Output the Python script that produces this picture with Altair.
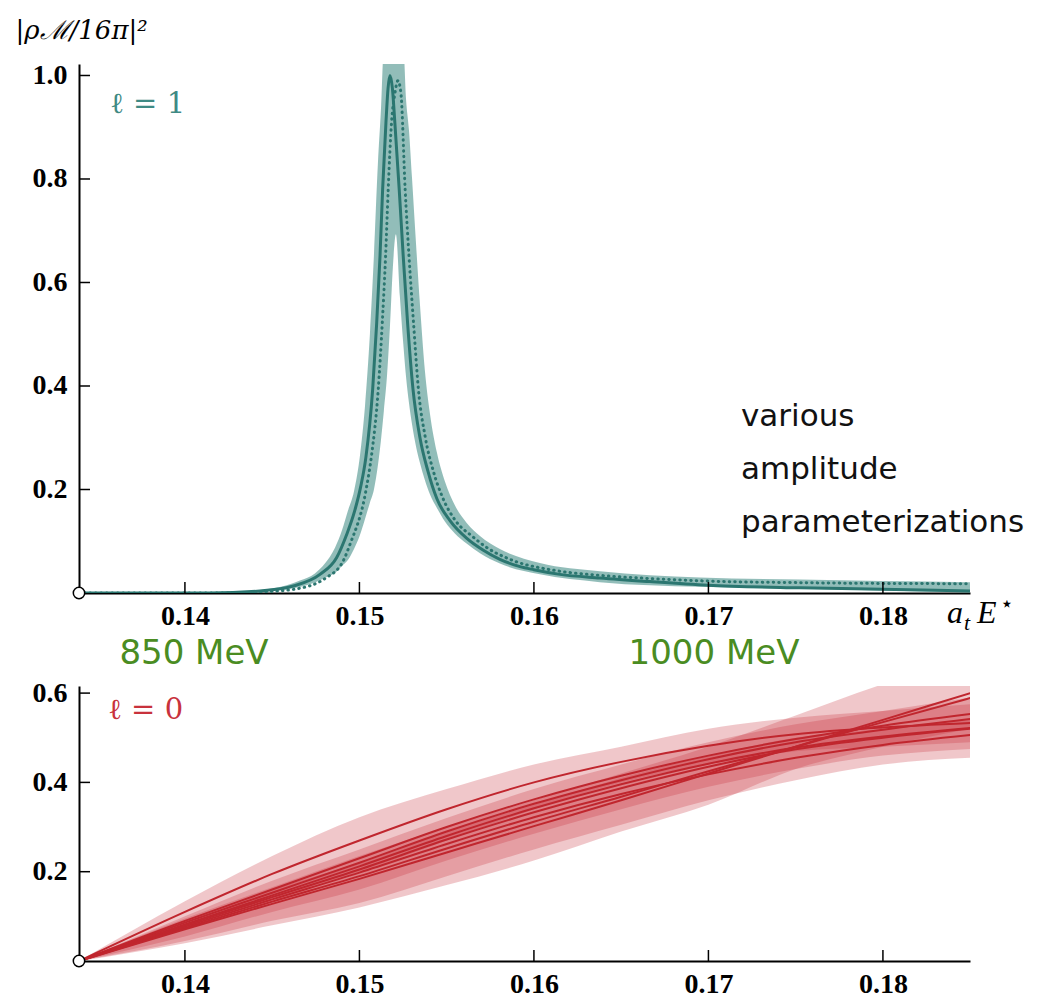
import altair as alt
import pandas as pd

# ---------------- axes / ticks ----------------
E_MIN, E_MAX = 0.13393, 0.18499
X_TICKS = [0.14, 0.15, 0.16, 0.17, 0.18]
Y_TICKS_TOP = [0.2, 0.4, 0.6, 0.8, 1.0]
Y_TICKS_BOT = [0.2, 0.4, 0.6]
TOP_YMAX = 1.0222
BOT_YMAX = 0.6159

# ---------------- top panel (l = 1) ----------------
SOLID_X = [0.13393, 0.14143, 0.14430, 0.14621, 0.14774, 0.14869, 0.14927, 0.14974, 0.15007, 0.15037,
           0.15076, 0.15099, 0.15118, 0.15133, 0.15152, 0.15164, 0.15175, 0.15189, 0.15203, 0.15228,
           0.15251, 0.15276, 0.15307, 0.15347, 0.15393, 0.15444, 0.15519, 0.15614, 0.15708, 0.15805,
           0.15920, 0.16000, 0.16149, 0.16378, 0.16665, 0.16997, 0.17524, 0.17994, 0.18499]
SOLID_Y = [0, 0, 0.004, 0.0135, 0.036, 0.068, 0.113, 0.160, 0.205, 0.262,
           0.394, 0.522, 0.651, 0.780, 0.909, 0.975, 1.0, 0.975, 0.909, 0.780,
           0.651, 0.522, 0.394, 0.30, 0.235, 0.182, 0.14, 0.106, 0.083, 0.065,
           0.051, 0.045, 0.036, 0.029, 0.022, 0.015, 0.010, 0.0072, 0.004]

DOT_X = [0.13393, 0.14250, 0.14430, 0.14621, 0.14812, 0.14907, 0.14946, 0.15039, 0.15069, 0.15108,
         0.15131, 0.15150, 0.15165, 0.15184, 0.15203, 0.15221, 0.15238, 0.15262, 0.15284, 0.15310,
         0.15338, 0.15378, 0.15424, 0.15476, 0.15550, 0.15645, 0.15738, 0.15835, 0.15950, 0.16030,
         0.16150, 0.16380, 0.16660, 0.17000, 0.17520, 0.18000, 0.18499]
DOT_Y = [0, 0, 0.002, 0.007, 0.030, 0.062, 0.094, 0.201, 0.265, 0.394,
         0.522, 0.651, 0.780, 0.909, 0.965, 0.99, 0.965, 0.780, 0.651, 0.522,
         0.394, 0.30, 0.235, 0.185, 0.14, 0.11, 0.086, 0.069, 0.055, 0.049,
         0.042, 0.034, 0.028, 0.023, 0.020, 0.0185, 0.018]

BAND_X = [0.13393, 0.14258, 0.14430, 0.14544, 0.14659, 0.14745, 0.14802, 0.14860, 0.14900, 0.14934,
          0.14969, 0.15003, 0.15032, 0.15060, 0.15083, 0.15106, 0.15123, 0.15140, 0.15158, 0.15175,
          0.15192, 0.15209, 0.15232, 0.15252, 0.15267, 0.15284, 0.15301, 0.15324, 0.15347, 0.15375,
          0.15404, 0.15444, 0.15490, 0.15547, 0.15616, 0.15691, 0.15805, 0.16034, 0.16378, 0.16951,
          0.17524, 0.17994, 0.18499]
BAND_LO = [0, 0.0005, 0.0029, 0.0059, 0.0116, 0.0204, 0.0288, 0.0389, 0.0523, 0.0638,
           0.0851, 0.112, 0.1431, 0.1745, 0.1997, 0.2469, 0.2939, 0.3516, 0.4196, 0.5156,
           0.6315, 0.693, 0.5718, 0.4785, 0.4182, 0.3671, 0.3269, 0.2838, 0.2513, 0.2183,
           0.1906, 0.1642, 0.1381, 0.1150, 0.095, 0.077, 0.057, 0.036, 0.021, 0.012,
           0.008, 0.005, 0.001]
BAND_HI = [0, 0.0021, 0.0057, 0.0114, 0.0242, 0.0379, 0.0571, 0.0874, 0.1211, 0.1587,
           0.1966, 0.265, 0.3613, 0.4996, 0.651, 0.8308, 0.9318, 1.05, 1.05, 1.05,
           1.05, 1.05, 1.05, 1.05, 0.9545, 0.894, 0.804, 0.6768, 0.5572, 0.4302,
           0.347, 0.2716, 0.2156, 0.1694, 0.135, 0.110, 0.085, 0.058, 0.042, 0.030,
           0.026, 0.023, 0.021]

# ---------------- bottom panel (l = 0) ----------------
E_GRID = [0.13393, 0.140, 0.145, 0.150, 0.155, 0.160, 0.165, 0.170, 0.175, 0.180, 0.185]
S_LINES = {
    "p1": [0, 0.110, 0.195, 0.270, 0.340, 0.400, 0.446, 0.482, 0.508, 0.523, 0.533],
    "p2": [0, 0.090, 0.160, 0.230, 0.300, 0.362, 0.415, 0.460, 0.497, 0.527, 0.553],
    "p3": [0, 0.086, 0.153, 0.220, 0.290, 0.352, 0.405, 0.452, 0.490, 0.518, 0.542],
    "p4": [0, 0.082, 0.147, 0.212, 0.280, 0.342, 0.396, 0.442, 0.478, 0.503, 0.522],
    "p5": [0, 0.080, 0.143, 0.205, 0.272, 0.333, 0.387, 0.435, 0.474, 0.500, 0.520],
    "p6": [0, 0.077, 0.138, 0.198, 0.262, 0.322, 0.374, 0.418, 0.455, 0.484, 0.506],
    "p7": [0, 0.074, 0.133, 0.190, 0.252, 0.312, 0.368, 0.425, 0.480, 0.535, 0.589],
    "p8": [0, 0.071, 0.128, 0.184, 0.243, 0.302, 0.360, 0.420, 0.480, 0.540, 0.600],
}
S_BANDS = {
    "bA": ([0, 0.075, 0.14, 0.20, 0.27, 0.34, 0.40, 0.44, 0.47, 0.48, 0.49],
           [0, 0.134, 0.235, 0.322, 0.385, 0.44, 0.48, 0.52, 0.545, 0.56, 0.575]),
    "bB": ([0, 0.055, 0.11, 0.16, 0.225, 0.285, 0.34, 0.39, 0.43, 0.46, 0.475],
           [0, 0.10, 0.18, 0.25, 0.32, 0.385, 0.44, 0.49, 0.53, 0.56, 0.59]),
    "bC": ([0, 0.04, 0.08, 0.12, 0.17, 0.225, 0.29, 0.35, 0.43, 0.48, 0.52],
           [0, 0.095, 0.165, 0.235, 0.30, 0.36, 0.42, 0.48, 0.55, 0.62, 0.68]),
    "bD": ([0, 0.045, 0.09, 0.13, 0.19, 0.25, 0.305, 0.36, 0.405, 0.44, 0.455],
           [0, 0.09, 0.16, 0.22, 0.29, 0.35, 0.41, 0.46, 0.50, 0.52, 0.54]),
}

MEV_LABELS = ["850 MeV", "1000 MeV"]
MEV_POS = [0.14052, 0.17032]

# ---------------- styling ----------------
W, H1, H2 = 891, 529, 275
TEAL = "#2b7670"
TEAL_BAND = "#38867f"
TEAL_TEXT = "#3f8a84"
RED = "#c0262e"
RED_BAND = "#c8313b"
GREEN = "#4a8c22"
SERIF = "Liberation Serif"

xs = alt.Scale(domain=[E_MIN, E_MAX], nice=False, zero=False)
ys_top = alt.Scale(domain=[0, TOP_YMAX], nice=False)
ys_bot = alt.Scale(domain=[0, BOT_YMAX], nice=False)


def x_axis():
    return alt.Axis(values=X_TICKS, format=".2f", ticks=False, grid=False, title=None,
                    domainColor="black", domainWidth=2, labelFont=SERIF, labelFontWeight="bold",
                    labelFontSize=28, labelColor="black", labelPadding=9)


def y_axis(vals, title=None):
    kw = dict(values=vals, format=".1f", ticks=False, grid=False,
              domainColor="black", domainWidth=2, labelFont=SERIF, labelFontWeight="bold",
              labelFontSize=28, labelColor="black", labelPadding=12)
    if title is not None:
        kw.update(title=title, titleAngle=0, titleAlign="left", titleBaseline="alphabetic",
                  titleX=-64, titleY=-26, titleFont="DejaVu Serif", titleFontStyle="italic",
                  titleFontWeight="normal", titleFontSize=26, titleColor="black")
    else:
        kw.update(title=None)
    return alt.Axis(**kw)


def enc_xy(xfield, yfield, yscale, yax):
    return dict(x=alt.X(xfield, scale=xs, axis=x_axis()),
                y=alt.Y(yfield, scale=yscale, axis=yax))


def tick_layers(yscale, yticks, h, yax):
    xt = alt.Chart(pd.DataFrame({"t": X_TICKS})).mark_rule(color="black", strokeWidth=1.5).encode(
        x=alt.X("t:Q", scale=xs, axis=x_axis()), y=alt.value(h), y2=alt.value(h - 11))
    yt = alt.Chart(pd.DataFrame({"t": yticks})).mark_rule(color="black", strokeWidth=1.5).encode(
        y=alt.Y("t:Q", scale=yscale, axis=yax), x=alt.value(0), x2=alt.value(11))
    return xt, yt


def origin_marker(yscale, yax):
    return alt.Chart(pd.DataFrame({"e": [E_GRID[0]], "v": [0.0]})).mark_point(
        shape="circle", filled=True, fill="white", stroke="black", strokeWidth=1.5,
        size=130, opacity=1).encode(**enc_xy("e:Q", "v:Q", yscale, yax))


def text_at(txt, px, py, **kw):
    return alt.Chart(pd.DataFrame({"s": [txt]})).mark_text(**kw).encode(
        text="s:N", x=alt.value(px), y=alt.value(py))


# ---------- top chart ----------
YAX_TOP = y_axis(Y_TICKS_TOP, "|ρℳ/16π|²")
band_df = pd.DataFrame({"e": BAND_X, "lo": BAND_LO, "hi": BAND_HI})
solid_df = pd.DataFrame({"e": SOLID_X, "v": SOLID_Y})
dot_df = pd.DataFrame({"e": DOT_X, "v": DOT_Y})

top_band = alt.Chart(band_df).mark_area(color=TEAL_BAND, opacity=0.55, interpolate="monotone",
                                        clip=True).encode(
    y2="hi:Q", **enc_xy("e:Q", "lo:Q", ys_top, YAX_TOP))
top_solid = alt.Chart(solid_df).mark_line(color=TEAL, strokeWidth=3, interpolate="monotone",
                                          clip=True).encode(**enc_xy("e:Q", "v:Q", ys_top, YAX_TOP))
top_dot = alt.Chart(dot_df).mark_line(color=TEAL, strokeWidth=3, strokeDash=[0.5, 5],
                                      strokeCap="round", interpolate="monotone", clip=True).encode(
    **enc_xy("e:Q", "v:Q", ys_top, YAX_TOP))
xt1, yt1 = tick_layers(ys_top, Y_TICKS_TOP, H1, YAX_TOP)

mev = alt.Chart(pd.DataFrame({"s": MEV_LABELS, "e": MEV_POS})).mark_text(
    font="DejaVu Sans", fontSize=34, color=GREEN, baseline="alphabetic", align="center").encode(
    x=alt.X("e:Q", scale=xs, axis=x_axis()), y=alt.value(600), text="s:N")

ell1 = text_at("ℓ = 1", 31, 49, font="DejaVu Serif", fontSize=29, color=TEAL_TEXT,
               align="left", baseline="alphabetic")
lab_a = text_at("a", 868, 559, font=SERIF, fontStyle="italic", fontSize=32, color="black",
                align="left", baseline="alphabetic")
lab_t = text_at("t", 885, 566, font=SERIF, fontStyle="italic", fontSize=22, color="black",
                align="left", baseline="alphabetic")
lab_E = text_at("E", 898, 559, font=SERIF, fontStyle="italic", fontSize=32, color="black",
                align="left", baseline="alphabetic")
lab_star = text_at("⋆", 921, 547, font="DejaVu Sans", fontSize=22, color="black",
                   align="left", baseline="alphabetic")
various = alt.Chart(pd.DataFrame({"s": [["various", "amplitude", "parameterizations"]]})).mark_text(
    font="DejaVu Sans", fontSize=31, color="#111111", align="left", baseline="alphabetic",
    lineHeight=53).encode(text="s", x=alt.value(662), y=alt.value(362))

top = alt.layer(top_band, top_solid, top_dot, xt1, yt1, origin_marker(ys_top, YAX_TOP), mev, ell1,
                lab_a, lab_t, lab_E, lab_star, various).properties(width=W, height=H1)

# ---------- bottom chart ----------
YAX_BOT = y_axis(Y_TICKS_BOT)
brows = []
for name, (lo, hi) in S_BANDS.items():
    for e, a, b in zip(E_GRID, lo, hi):
        brows.append({"band": name, "e": e, "lo": a, "hi": b})
bdf = pd.DataFrame(brows)
lrows = []
for name, vals in S_LINES.items():
    for e, v in zip(E_GRID, vals):
        lrows.append({"line": name, "e": e, "v": v})
ldf = pd.DataFrame(lrows)

bot_band = alt.Chart(bdf).mark_area(color=RED_BAND, opacity=0.27, interpolate="monotone",
                                    clip=True).encode(
    y2="hi:Q", detail="band:N", **enc_xy("e:Q", "lo:Q", ys_bot, YAX_BOT))
bot_lines = alt.Chart(ldf).mark_line(color=RED, strokeWidth=2, interpolate="monotone",
                                     clip=True).encode(
    detail="line:N", **enc_xy("e:Q", "v:Q", ys_bot, YAX_BOT))
xt2, yt2 = tick_layers(ys_bot, Y_TICKS_BOT, H2, YAX_BOT)
ell0 = text_at("ℓ = 0", 29, 33, font="DejaVu Serif", fontSize=29, color="#c8323c",
               align="left", baseline="alphabetic")

bottom = alt.layer(bot_band, bot_lines, xt2, yt2, origin_marker(ys_bot, YAX_BOT), ell0).properties(
    width=W, height=H2)

chart = alt.vconcat(top, bottom, spacing=93, bounds="flush").properties(
    padding={"left": 15, "top": 17, "right": 5, "bottom": 5}, background="white"
).configure_view(stroke=None)

chart.save("out.html", embed_options={"renderer": "svg", "actions": False})
